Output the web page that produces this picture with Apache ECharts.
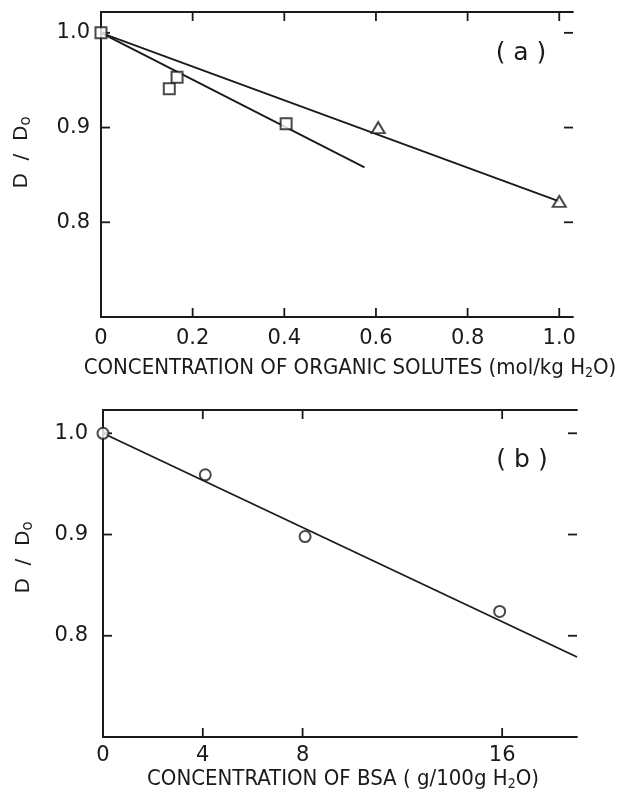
<!DOCTYPE html>
<html><head><meta charset="utf-8">
<script src="https://cdn.jsdelivr.net/npm/echarts@6/dist/echarts.min.js"></script>
<style>html,body{margin:0;padding:0;background:#fff}#c{width:620px;height:801px}</style>
</head><body><div id="c"></div>
<script>
// ---- Panel (a) data ----
const squaresA = [[0, 1.0], [0.149, 0.941], [0.166, 0.953], [0.404, 0.904]];
const trianglesA = [[0.605, 0.900], [1.0, 0.822]];
const fitSquaresA = [[0, 1.0], [0.575, 0.858]];
const fitTrianglesA = [[0, 1.0], [1.0, 0.822]];
const xTicksA = [0, 0.2, 0.4, 0.6, 0.8, 1.0];
const xTickLabelsA = ['0', '0.2', '0.4', '0.6', '0.8', '1.0'];
// ---- Panel (b) data ----
const circlesB = [[0, 1.0], [4.1, 0.959], [8.1, 0.898], [15.9, 0.824]];
const fitCirclesB = [[0, 1.0], [19, 0.779]];
const xTicksB = [0, 4, 8, 16];
const xTickLabelsB = ['0', '4', '8', '16'];
// ---- shared ----
const yTicks = [0.8, 0.9, 1.0];
const yTickLabels = ['0.8', '0.9', '1.0'];
const xNameA = 'CONCENTRATION OF ORGANIC SOLUTES (mol/kg H{sub|2}O)';
const xNameB = 'CONCENTRATION OF BSA ( g/100g H{sub|2}O)';
const yName = 'D  /  D{sub|o}';
const panelLabels = ['( a )', '( b )'];

const INK = '#1a1a1a';
const tickFont = "'DejaVu Sans', sans-serif";
const titleFont = "'Liberation Sans Narrow','DejaVu Sans Condensed','Roboto Condensed','Liberation Sans',sans-serif";

const rangesA = { xmin: 0, xmax: 1.03, ymin: 0.7, ymax: 1.022, xStep: 0.2 };
const rangesB = { xmin: 0, xmax: 19, ymin: 0.7, ymax: 1.023, xStep: 4 };
const yStep = 0.1;
const TICK = 9;
const TW = 1.8;

function fmt(ticks, labels) {
  return function (v) {
    for (let i = 0; i < ticks.length; i++) if (Math.abs(v - ticks[i]) < 1e-9) return labels[i];
    return '';
  };
}
const lineStyle = { color: INK, width: 1.8 };

function xAxes(grid, r, ticks, labels, name, nameGap, labelMargin, namePad) {
  return [{
    type: 'value', gridIndex: grid, position: 'bottom', min: r.xmin, max: r.xmax, interval: r.xStep,
    axisLine: { show: true, lineStyle: lineStyle }, axisTick: { show: false },
    axisLabel: { show: true, formatter: fmt(ticks, labels), margin: labelMargin, showMinLabel: true, showMaxLabel: true,
      fontFamily: tickFont, fontSize: 21, color: INK },
    splitLine: { show: false },
    name: name, nameLocation: 'middle', nameGap: nameGap,
    nameTextStyle: { fontFamily: titleFont, fontSize: 22, color: INK, lineHeight: 24, padding: namePad,
      rich: { sub: { fontFamily: titleFont, fontSize: 14, color: INK, verticalAlign: 'bottom', lineHeight: 24 } } }
  }, {
    type: 'value', gridIndex: grid, position: 'top', min: r.xmin, max: r.xmax, interval: r.xStep,
    axisLine: { show: true, lineStyle: lineStyle }, axisTick: { show: false },
    axisLabel: { show: false }, splitLine: { show: false }
  }];
}
function yAxes(grid, r, labelMargin, namePad) {
  return [{
    type: 'value', gridIndex: grid, position: 'left', min: r.ymin, max: r.ymax, interval: yStep,
    axisLine: { show: true, lineStyle: lineStyle }, axisTick: { show: false },
    axisLabel: { show: true, formatter: fmt(yTicks, yTickLabels), margin: labelMargin, showMinLabel: true, showMaxLabel: true,
      fontFamily: tickFont, fontSize: 21, color: INK },
    splitLine: { show: false },
    name: yName, nameLocation: 'middle', nameRotate: 90, nameGap: 67,
    nameTextStyle: { fontFamily: tickFont, fontSize: 20, color: INK, lineHeight: 24, padding: namePad,
      rich: { sub: { fontFamily: tickFont, fontSize: 15, color: INK, verticalAlign: 'bottom', lineHeight: 24 } } }
  }, {
    type: 'value', gridIndex: grid, position: 'right', min: r.ymin, max: r.ymax, interval: yStep,
    axisLine: { show: true, lineStyle: lineStyle }, axisTick: { show: false },
    axisLabel: { show: false }, splitLine: { show: false }
  }];
}

// Inward ticks: one small filled rect per tick and side, placed through the axes' own scales.
function tickSeries(axisIdx, data, rectOf) {
  return { type: 'custom', xAxisIndex: axisIdx, yAxisIndex: axisIdx, silent: true, z: 3, clip: false,
    data: data,
    renderItem: function (params, api) {
      return { type: 'rect', shape: rectOf(api), style: { fill: INK } };
    } };
}
function panelTicks(axisIdx, r, xt) {
  const xs = xt.filter(v => v > r.xmin && v < r.xmax).map(v => [v, r.ymin]);
  const ys = yTicks.filter(v => v > r.ymin && v < r.ymax).map(v => [r.xmin, v]);
  return [
    tickSeries(axisIdx, xs, function (api) {           // bottom edge, pointing up
      const p = api.coord([api.value(0), r.ymin]);
      return { x: p[0] - TW / 2, y: p[1] - TICK, width: TW, height: TICK };
    }),
    tickSeries(axisIdx, xs, function (api) {           // top edge, pointing down
      const p = api.coord([api.value(0), r.ymax]);
      return { x: p[0] - TW / 2, y: p[1], width: TW, height: TICK };
    }),
    tickSeries(axisIdx, ys, function (api) {           // left edge, pointing right
      const p = api.coord([r.xmin, api.value(1)]);
      return { x: p[0], y: p[1] - TW / 2, width: TICK, height: TW };
    }),
    tickSeries(axisIdx, ys, function (api) {           // right edge, pointing left
      const p = api.coord([r.xmax, api.value(1)]);
      return { x: p[0] - TICK, y: p[1] - TW / 2, width: TICK, height: TW };
    })
  ];
}

const marker = { color: '#fff', borderColor: INK, borderWidth: 2 };
const option = {
  backgroundColor: '#fff',
  animation: false,
  grid: [
    { left: 101, top: 12, width: 472, height: 305 },
    { left: 103, top: 410, width: 474, height: 327 }
  ],
  xAxis: [].concat(
    xAxes(0, rangesA, xTicksA, xTickLabelsA, xNameA, 39, 11, [0, 0, 0, 26]),
    xAxes(1, rangesB, xTicksB, xTickLabelsB, xNameB, 23, 8, [0, 0, 0, 6])
  ),
  yAxis: [].concat(
    yAxes(0, rangesA, 11, [0, 0, 0, 24]),
    yAxes(1, rangesB, 15, [0, 0, 0, 32])
  ),
  graphic: [
    { type: 'text', x: 521, y: 53, style: { text: panelLabels[0], fontFamily: tickFont, fontSize: 25, fill: INK, align: 'center', verticalAlign: 'middle' } },
    { type: 'text', x: 522, y: 460, style: { text: panelLabels[1], fontFamily: tickFont, fontSize: 25, fill: INK, align: 'center', verticalAlign: 'middle' } }
  ],
  series: [].concat(
    panelTicks(0, rangesA, xTicksA),
    panelTicks(2, rangesB, xTicksB),
    [
      { type: 'line', xAxisIndex: 0, yAxisIndex: 0, data: fitSquaresA, showSymbol: false, lineStyle: lineStyle, silent: true, z: 2 },
      { type: 'line', xAxisIndex: 0, yAxisIndex: 0, data: fitTrianglesA, showSymbol: false, lineStyle: lineStyle, silent: true, z: 2 },
      { type: 'scatter', xAxisIndex: 0, yAxisIndex: 0, data: squaresA, symbol: 'rect', symbolSize: 11, itemStyle: marker, silent: true, z: 5, clip: false },
      { type: 'scatter', xAxisIndex: 0, yAxisIndex: 0, data: trianglesA, symbol: 'triangle', symbolSize: [13, 11], itemStyle: marker, silent: true, z: 5, clip: false },
      { type: 'line', xAxisIndex: 2, yAxisIndex: 2, data: fitCirclesB, showSymbol: false, lineStyle: lineStyle, silent: true, z: 2 },
      { type: 'scatter', xAxisIndex: 2, yAxisIndex: 2, data: circlesB, symbol: 'circle', symbolSize: 11, itemStyle: marker, silent: true, z: 5, clip: false }
    ]
  )
};
const chart = echarts.init(document.getElementById('c'), null, { renderer: 'canvas' });
chart.setOption(option);
</script>
</body></html>
